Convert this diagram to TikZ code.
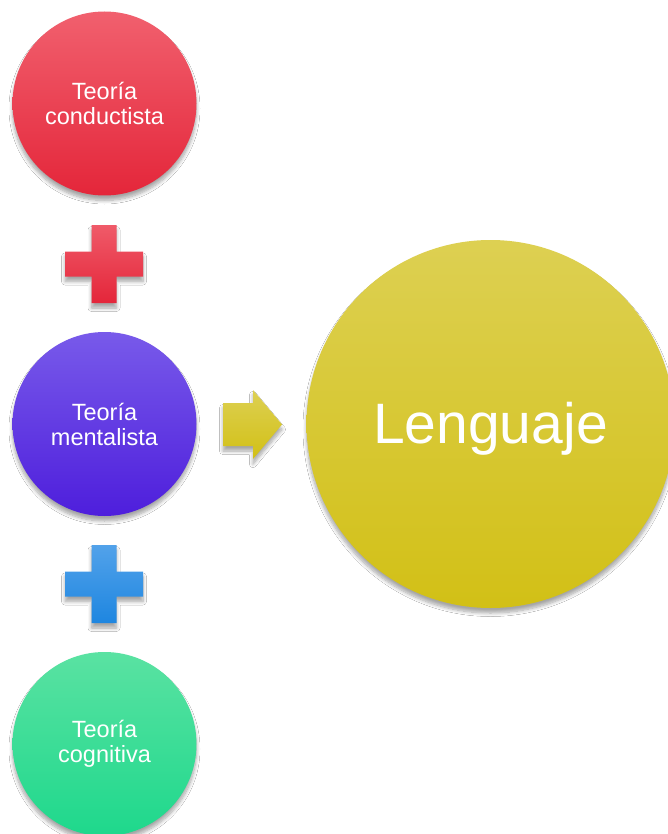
\documentclass[tikz,border=0pt]{standalone}
\usepackage{fontspec}
\setmainfont{Liberation Sans}
\usetikzlibrary{shadows.blur}
\definecolor{redT}{RGB}{241,96,110}
\definecolor{redB}{RGB}{228,38,58}
\definecolor{purT}{RGB}{120,90,234}
\definecolor{purB}{RGB}{78,30,220}
\definecolor{grnT}{RGB}{90,226,162}
\definecolor{grnB}{RGB}{30,216,140}
\definecolor{yelT}{RGB}{221,208,82}
\definecolor{yelB}{RGB}{210,192,22}
\definecolor{bluT}{RGB}{82,162,234}
\definecolor{bluB}{RGB}{30,134,224}
\tikzset{
  softshadow/.style={blur shadow={shadow xshift=0pt,shadow yshift=-5pt,shadow blur radius=3.5pt,shadow blur steps=8,shadow opacity=35}},
  theory/.style={circle,minimum size=184pt,inner sep=0pt,text=white,align=center,
    font=\fontsize{23.5}{25}\selectfont,softshadow},
  bigc/.style={circle,minimum size=368pt,inner sep=0pt,text=white,
    font=\fontsize{57}{60}\selectfont,softshadow},
}
\begin{document}
\begin{tikzpicture}[x=1pt,y=-1pt]
\useasboundingbox (0,0) rectangle (668,834);
\fill[white] (0,0) rectangle (668,834);
% circles
\node[theory,top color=redT,bottom color=redB] (cond) at (104.5,103.5) {Teoría\\conductista};
\node[theory,top color=purT,bottom color=purB] (ment) at (104.5,424) {Teoría\\mentalista};
\node[theory,top color=grnT,bottom color=grnB] (cogn) at (104.5,744) {Teoría\\cognitiva};
\node[bigc,top color=yelT,bottom color=yelB] (leng) at (490.5,424) {\raisebox{-19pt}[0pt][0pt]{Lenguaje}};
% plus signs
\path[softshadow,top color=redT!90!redB,bottom color=redB]
  (91.5,225) -- (116.5,225) -- (116.5,251.5) -- (143,251.5) -- (143,276.5) -- (116.5,276.5)
  -- (116.5,303) -- (91.5,303) -- (91.5,276.5) -- (65,276.5) -- (65,251.5) -- (91.5,251.5) -- cycle;
\path[softshadow,top color=bluT,bottom color=bluB]
  (91.5,545) -- (116.5,545) -- (116.5,571.5) -- (143,571.5) -- (143,596.5) -- (116.5,596.5)
  -- (116.5,623) -- (91.5,623) -- (91.5,596.5) -- (65,596.5) -- (65,571.5) -- (91.5,571.5) -- cycle;
% arrow
\path[softshadow,top color=yelT,bottom color=yelB]
  (223,403) -- (253,403) -- (253,390) -- (282,424.5) -- (253,459) -- (253,446) -- (223,446) -- cycle;
\end{tikzpicture}
\end{document}
